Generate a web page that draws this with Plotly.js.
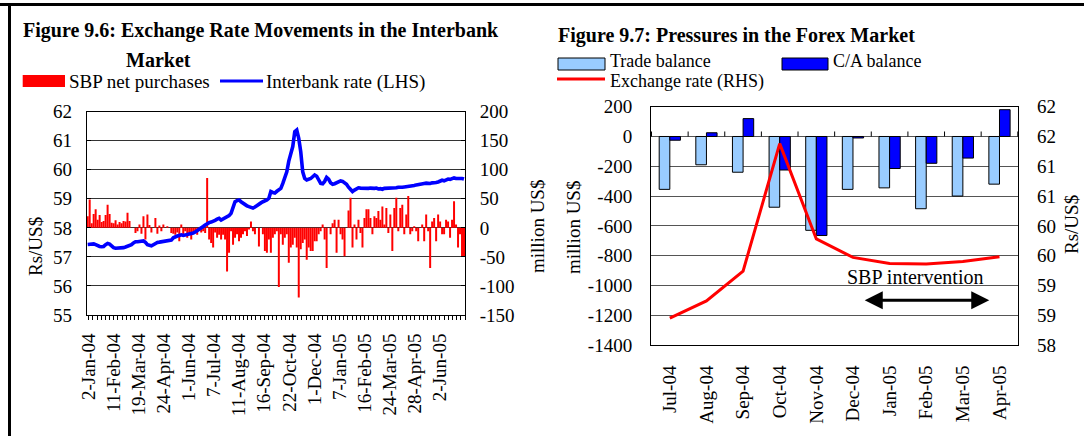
<!DOCTYPE html>
<html>
<head>
<meta charset="utf-8">
<script src="https://cdn.plot.ly/plotly-3.0.1.min.js"></script>
<style>
  html, body { margin: 0; padding: 0; background: #fff; }
  #chart { width: 1084px; height: 436px; }
</style>
</head>
<body>
<div id="chart"></div>
<script>
// ---------- Figure 9.6 data (daily) ----------
const dateLabels = ['2-Jan-04', '11-Feb-04', '19-Mar-04', '24-Apr-04', '1-Jun-04', '7-Jul-04',
  '11-Aug-04', '16-Sep-04', '22-Oct-04', '1-Dec-04', '7-Jan-05', '16-Feb-05', '24-Mar-05',
  '28-Apr-05', '2-Jun-05'];

const interbankRate = [
  57.43, 57.44, 57.45, 57.45, 57.42, 57.38, 57.36, 57.35, 57.36, 57.42,
  57.46, 57.44, 57.36, 57.32, 57.30, 57.30, 57.31, 57.30, 57.32, 57.34,
  57.36, 57.38, 57.42, 57.48, 57.52, 57.52, 57.53, 57.54, 57.55, 57.50,
  57.42, 57.40, 57.38, 57.42, 57.48, 57.50, 57.51, 57.52, 57.52, 57.52,
  57.53, 57.54, 57.58, 57.66, 57.70, 57.72, 57.74, 57.76, 57.74, 57.75,
  57.76, 57.78, 57.80, 57.82, 57.86, 57.90, 57.95, 57.99, 58.05, 58.10,
  58.16, 58.18, 58.20, 58.22, 58.26, 58.30, 58.33, 58.27, 58.30, 58.34,
  58.38, 58.42, 58.50, 58.70, 58.90, 58.94, 58.96, 58.90, 58.84, 58.80,
  58.76, 58.73, 58.70, 58.68, 58.72, 58.78, 58.84, 58.86, 58.90, 58.92,
  58.96, 59.02, 59.25, 59.22, 59.20, 59.26, 59.32, 59.36, 59.53, 59.70,
  59.93, 60.30, 60.62, 60.80, 61.31, 61.37, 61.08, 60.62, 59.93, 59.70,
  59.65, 59.66, 59.70, 59.76, 59.82, 59.78, 59.65, 59.53, 59.52, 59.60,
  59.74, 59.68, 59.55, 59.50, 59.52, 59.56, 59.60, 59.62, 59.60, 59.55,
  59.50, 59.40, 59.30, 59.25, 59.30, 59.35, 59.38, 59.37, 59.36, 59.36,
  59.37, 59.36, 59.37, 59.35, 59.36, 59.37, 59.34, 59.35, 59.33, 59.36,
  59.36, 59.37, 59.36, 59.38, 59.37, 59.38, 59.40, 59.39, 59.40, 59.41,
  59.42, 59.40, 59.42, 59.44, 59.46, 59.48, 59.50, 59.52, 59.51, 59.53,
  59.54, 59.52, 59.53, 59.55, 59.54, 59.56, 59.58, 59.62, 59.64, 59.62,
  59.66, 59.68, 59.67, 59.70, 59.72, 59.70, 59.71, 59.72, 59.70, 59.68
];

const sbpNetPurchases = [
  20, 49, 8, 24, 32, 14, 22, 10, 12, 22,
  40, 24, 9, 8, 13, 6, 10, 8, 12, 11,
  26, 12, 0, 0, -9, -6, 6, -10, 20, -20,
  23, 5, -8, 0, 17, -10, 4, -6, 6, 0,
  3, 0, -9, -10, -12, -8, -23, 6, -12, -6,
  -17, -12, -20, -10, -7, -12, -5, -8, -6, -9,
  86, -20, -26, -34, -8, -17, -12, -20, -12, -20,
  -75, -43, -6, -29, -17, -11, -23, -17, -11, -6,
  -14, -3, 11, -6, -11, 0, -32, 0, -11, -40,
  -43, -20, -43, -17, -11, -6, -102, -11, -29, -17,
  -11, -60, -34, -29, -17, -34, -120, -37, -26, -20,
  -55, -34, -40, -40, -23, -23, -11, -6, 6, -20,
  -69, 0, -11, 8, 14, -43, 14, -11, -20, -49,
  0, 30, 52, -34, 6, -20, 14, -9, -34, 17,
  32, 32, 17, -11, 20, 17, 29, 14, 37, 6,
  34, -9, 23, -40, 34, 52, -6, 34, 40, -11,
  23, 55, -11, -6, 3, -6, -23, 0, 6, -23,
  23, -6, -69, 11, 17, -23, 23, 11, -11, -11,
  14, 11, -17, 14, 46, 6, -34, -11, -49, -49
];

const millionTicks = [-150, -100, -50, 0, 50, 100, 150, 200];
const millionTickText = ['-150', '-100', '-50', '0', '50', '100', '150', '200'];

// ---------- Figure 9.7 data (monthly) ----------
const months = ['Jul-04', 'Aug-04', 'Sep-04', 'Oct-04', 'Nov-04', 'Dec-04', 'Jan-05', 'Feb-05', 'Mar-05', 'Apr-05'];
const tradeBalance = [-355, -190, -240, -475, -630, -355, -345, -485, -400, -320];
const caBalance = [-25, 25, 120, -225, -665, -10, -215, -180, -145, 180];
const exchangeRate = [58.45, 58.74, 59.24, 61.38, 59.78, 59.47, 59.37, 59.36, 59.40, 59.48];

const balTicks = [-1400, -1200, -1000, -800, -600, -400, -200, 0, 200];
const balTickText = ['-1400', '-1200', '-1000', '-800', '-600', '-400', '-200', '0', '200'];
const rateTicks = [58, 58.5, 59, 59.5, 60, 60.5, 61, 61.5, 62];
const rateTickText = ['58', '59', '59', '60', '60', '61', '61', '62', '62'];

// ---------- build ----------
const W = 1084, H = 436;
const px = v => v / W;
const py = v => 1 - v / H;
const FONT = '"Liberation Serif", "Times New Roman", serif';

const idx = interbankRate.map((_, i) => i);
const LABEL_STEP = 12.6;
const labelPos = dateLabels.map((_, i) => 0.5 + i * LABEL_STEP);

const traces = [
  { type: 'bar', x: idx, y: sbpNetPurchases, xaxis: 'x', yaxis: 'y', width: 1,
    marker: { color: '#FF0000', line: { width: 0 } }, name: 'SBP net purchases', hoverinfo: 'skip' },
  { type: 'scatter', mode: 'lines', x: idx, y: interbankRate, xaxis: 'x', yaxis: 'y2',
    line: { color: '#0000FF', width: 3.6 }, name: 'Interbank rate (LHS)' },
  { type: 'bar', x: months, y: tradeBalance, xaxis: 'x2', yaxis: 'y3', name: 'Trade balance',
    marker: { color: '#99CCFF', line: { color: '#000', width: 1 } } },
  { type: 'bar', x: months, y: caBalance, xaxis: 'x2', yaxis: 'y3', name: 'C/A balance',
    marker: { color: '#0000FF', line: { color: '#000', width: 1 } } },
  { type: 'scatter', mode: 'lines', x: months, y: exchangeRate, xaxis: 'x2', yaxis: 'y4',
    name: 'Exchange rate (RHS)', line: { color: '#FF0000', width: 3 } }
];

const axFont = { family: FONT, size: 19, color: '#000' };

const shapes = [
  // outer frame
  { type: 'line', xref: 'paper', yref: 'paper', x0: 0, x1: 1, y0: py(4.5), y1: py(4.5), line: { color: '#000', width: 3 } },
  { type: 'line', xref: 'paper', yref: 'paper', x0: px(9.5), x1: px(9.5), y0: 0, y1: py(3), line: { color: '#000', width: 3 } },
  // left legend
  { type: 'rect', xref: 'paper', yref: 'paper', x0: px(22.7), x1: px(65), y0: py(87), y1: py(75), fillcolor: '#FF0000', line: { width: 0 } },
  { type: 'line', xref: 'paper', yref: 'paper', x0: px(220), x1: px(263), y0: py(81), y1: py(81), line: { color: '#0000FF', width: 3 } },
  // right legend
  { type: 'rect', xref: 'paper', yref: 'paper', x0: px(558), x1: px(605), y0: py(70), y1: py(58), fillcolor: '#99CCFF', line: { color: '#000', width: 1 } },
  { type: 'rect', xref: 'paper', yref: 'paper', x0: px(782), x1: px(828), y0: py(70), y1: py(58), fillcolor: '#0000FF', line: { color: '#000', width: 1 } },
  { type: 'line', xref: 'paper', yref: 'paper', x0: px(557), x1: px(605), y0: py(79), y1: py(79), line: { color: '#FF0000', width: 3 } }
];
// category-boundary ticks on the zero line of the right panel
for (let k = 0; k <= months.length; k++) {
  shapes.push({ type: 'line', xref: 'x2', yref: 'y3', ysizemode: 'pixel', yanchor: 0,
    x0: k - 0.5, x1: k - 0.5, y0: 0, y1: 5, line: { color: '#000', width: 1 } });
}

const ann = (text, x, y, opts) => Object.assign({ text, x, y, xref: 'paper', yref: 'paper', showarrow: false,
  xanchor: 'left', yanchor: 'middle', borderpad: 0, font: { family: FONT, size: 19, color: '#000' } }, opts || {});
const titleFont = { family: FONT, size: 20, color: '#000' };
const legFont = { family: FONT, size: 18, color: '#000' };

const annotations = [
  ann('<b>Figure 9.6: Exchange Rate Movements in the Interbank</b>', px(22), py(30), { font: titleFont }),
  ann('<b>Market</b>', px(158.5), py(60), { xanchor: 'center', font: titleFont }),
  ann('SBP net purchases', px(68), py(82)),
  ann('Interbank rate (LHS)', px(265), py(82)),
  ann('<b>Figure 9.7: Pressures in the Forex Market</b>', px(557), py(35), { font: titleFont }),
  ann('Trade balance', px(609), py(61), { font: legFont }),
  ann('C/A balance', px(832), py(61), { font: legFont }),
  ann('Exchange rate (RHS)', px(609), py(82), { font: legFont }),
  ann('Rs/US$', px(35), py(247), { xanchor: 'center', textangle: -90 }),
  ann('million US$', px(537), py(227), { xanchor: 'center', textangle: -90 }),
  ann('million US$', px(573), py(228), { xanchor: 'center', textangle: -90 }),
  ann('Rs/US$', px(1072), py(225), { xanchor: 'center', textangle: -90 }),
  ann('SBP intervention', px(915), py(277), { xanchor: 'center', font: { family: FONT, size: 20, color: '#000' } }),
  { x: 8.72, y: -1100, ax: 5.28, ay: -1100, xref: 'x2', yref: 'y3', axref: 'x2', ayref: 'y3',
    text: '', showarrow: true, arrowhead: 2, arrowside: 'end+start', arrowsize: 1.2, arrowwidth: 3,
    arrowcolor: '#000', standoff: 0, startstandoff: 0 }
];

const layout = {
  width: W, height: H,
  margin: { l: 0, r: 0, t: 0, b: 0 },
  paper_bgcolor: '#fff', plot_bgcolor: 'rgba(0,0,0,0)',
  showlegend: false,
  font: { family: FONT, size: 19, color: '#000' },
  barmode: 'group', bargap: 0.42, bargroupgap: 0,
  xaxis: {
    domain: [px(86.7), px(465)], anchor: 'y', range: [-0.5, interbankRate.length - 0.5],
    tickmode: 'array', tickvals: labelPos, ticktext: dateLabels, tickangle: -90,
    ticks: 'outside', ticklen: 4, tickcolor: '#000', tickfont: axFont, ticklabelstandoff: 6,
    showline: true, linecolor: '#000', linewidth: 1, mirror: true, showgrid: false, zeroline: false,
    minor: { tickmode: 'linear', tick0: 0.5, dtick: 2.1, ticks: 'outside', ticklen: 4, tickcolor: '#000', showgrid: false }
  },
  yaxis: {
    domain: [1 - 315 / H, 1 - 111.7 / H], anchor: 'x', side: 'right', range: [-150, 200],
    tickmode: 'array', tickvals: millionTicks, ticktext: millionTickText,
    ticks: 'inside', ticklen: 4, tickcolor: '#000', tickfont: axFont, ticklabelstandoff: 10,
    showgrid: true, gridcolor: '#333', gridwidth: 1, zeroline: false,
    showline: true, linecolor: '#000', linewidth: 1
  },
  yaxis2: {
    overlaying: 'y', anchor: 'x', side: 'left', range: [55, 62], tickmode: 'linear', tick0: 55, dtick: 1,
    ticks: 'inside', ticklen: 4, tickcolor: '#000', tickfont: axFont, ticklabelstandoff: 10,
    showgrid: false, zeroline: false, showline: true, linecolor: '#000', linewidth: 1
  },
  xaxis2: {
    domain: [px(651), px(1018.3)], anchor: 'y3', type: 'category', tickangle: -90,
    ticks: '', tickfont: axFont, ticklabelstandoff: 12,
    showline: true, linecolor: '#000', linewidth: 1, mirror: true, showgrid: false, zeroline: false
  },
  yaxis3: {
    domain: [1 - 345 / H, 1 - 106.7 / H], anchor: 'x2', side: 'left', range: [-1400, 200],
    tickmode: 'array', tickvals: balTicks, ticktext: balTickText,
    ticks: '', tickfont: axFont, ticklabelstandoff: 14,
    showgrid: true, gridcolor: '#555', gridwidth: 1, zeroline: true, zerolinecolor: '#555', zerolinewidth: 1,
    showline: true, linecolor: '#000', linewidth: 1
  },
  yaxis4: {
    overlaying: 'y3', anchor: 'x2', side: 'right', range: [58, 62],
    tickmode: 'array', tickvals: rateTicks, ticktext: rateTickText,
    ticks: '', tickfont: axFont, ticklabelstandoff: 14,
    showgrid: false, zeroline: false, showline: true, linecolor: '#000', linewidth: 1
  },
  shapes, annotations
};

Plotly.newPlot('chart', traces, layout, { staticPlot: true, displayModeBar: false });
</script>
</body>
</html>
